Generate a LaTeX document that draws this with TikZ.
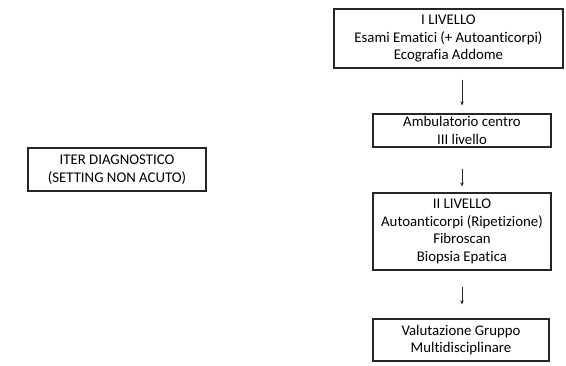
\documentclass[tikz,border=0pt]{standalone}
\usepackage{fontspec}
\setmainfont[Ligatures=NoCommon]{Carlito}
\usetikzlibrary{arrows.meta}

\tikzset{
  box/.style={draw=black!85, line width=1.1pt, align=center, inner sep=0pt,
    font=\fontsize{14.8}{17.5}\selectfont},
  flow/.style={-{Stealth[length=4pt,width=3.5pt]}, line width=0.8pt, black!85}
}

\begin{document}
\begin{tikzpicture}[x=1pt,y=1pt]
\useasboundingbox (0,0) rectangle (566,-365);

\node[box, minimum width=178, minimum height=43] (iter) at (117,-169.5) {ITER DIAGNOSTICO\\(SETTING NON ACUTO)};

\node[box, minimum width=229, minimum height=59] (liv1) at (448.5,-38.5) {I LIVELLO\\Esami Ematici (+ Autoanticorpi)\\Ecografia Addome};
\node[box, minimum width=178, minimum height=33] (amb) at (462,-130.5) {Ambulatorio centro\\III livello};
\node[box, minimum width=178, minimum height=77] (liv2) at (462,-231.5) {II LIVELLO\\Autoanticorpi (Ripetizione)\\Fibroscan\\Biopsia Epatica};
\node[box, minimum width=176, minimum height=42] (mdt) at (461,-340) {Valutazione Gruppo\\Multidisciplinare};

\draw[flow, shorten <=11pt, shorten >=8pt] (liv1.south -| amb.north) -- (amb.north);
\draw[flow, shorten <=21pt, shorten >=6pt] (amb.south) -- (liv2.north);
\draw[flow, shorten <=16pt, shorten >=14pt] (liv2.south) -- (liv2.south |- mdt.north);

\end{tikzpicture}
\end{document}
